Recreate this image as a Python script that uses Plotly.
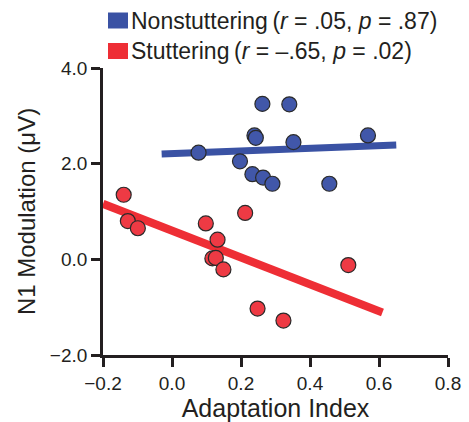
import plotly.graph_objects as go

# Adaptation index vs. N1 modulation (µV) per participant
nonstut_x = [0.077, 0.262, 0.340, 0.239, 0.243, 0.352, 0.568, 0.197, 0.233, 0.264, 0.291, 0.456]
nonstut_y = [2.23, 3.25, 3.24, 2.59, 2.54, 2.45, 2.59, 2.05, 1.78, 1.71, 1.58, 1.58]
stut_x = [-0.140, -0.128, -0.099, 0.098, 0.212, 0.132, 0.117, 0.127, 0.149, 0.248, 0.323, 0.511]
stut_y = [1.35, 0.80, 0.65, 0.75, 0.97, 0.41, 0.02, 0.03, -0.21, -1.03, -1.28, -0.12]

# Regression line end points for each group
nonstut_fit_x = [-0.03, 0.65]
nonstut_fit_y = [2.20, 2.39]
stut_fit_x = [-0.20, 0.61]
stut_fit_y = [1.16, -1.11]

group_labels = [
    "Nonstuttering\u2009(<i>r</i> = .05, <i>p</i> = .87)",
    "Stuttering\u2009(<i>r</i> = \u2013.65, <i>p</i> = .02)",
]

x_ticks = [-0.2, 0.0, 0.2, 0.4, 0.6, 0.8]
y_ticks = [-2.0, 0.0, 2.0, 4.0]

BLUE = "#3a52a4"
BLUE_PT = "#4157a9"
RED = "#ee2e35"
RED_PT = "#ee3a44"
INK = "#231f20"
FONT = "Liberation Sans, Arial, sans-serif"

W, H = 469, 422
L, R, T, B = 103, 21, 68, 67

fig = go.Figure()

fig.add_trace(go.Scatter(x=nonstut_fit_x, y=nonstut_fit_y, mode="lines",
                         line=dict(color=BLUE, width=7), showlegend=False))
fig.add_trace(go.Scatter(x=stut_fit_x, y=stut_fit_y, mode="lines",
                         line=dict(color=RED, width=8), showlegend=False))
fig.add_trace(go.Scatter(x=nonstut_x, y=nonstut_y, mode="markers",
                         marker=dict(size=15, color=BLUE_PT,
                                     line=dict(color="#2a2a2a", width=1.2)),
                         showlegend=False))
fig.add_trace(go.Scatter(x=stut_x, y=stut_y, mode="markers",
                         marker=dict(size=15, color=RED_PT,
                                     line=dict(color="#2a2a2a", width=1.2)),
                         showlegend=False))


def px_x(p):
    return (p - L) / (W - L - R)


def px_y(p):
    return (H - B - p) / (H - T - B)


# Group key: coloured squares with labels above the plot
key_colors = [BLUE, RED]
key_tops = [12.5, 43]
for label, color, top in zip(group_labels, key_colors, key_tops):
    fig.add_shape(type="rect", xref="paper", yref="paper",
                  x0=px_x(108), x1=px_x(128), y0=px_y(top + 16), y1=px_y(top),
                  fillcolor=color, line=dict(width=0))
    fig.add_annotation(xref="paper", yref="paper", x=px_x(129), y=px_y(top + 8.5),
                       xanchor="left", yanchor="middle", showarrow=False,
                       text=label, font=dict(family=FONT, size=23, color=INK))

axis_common = dict(
    showline=True, linecolor=INK, linewidth=2.8,
    ticks="outside", ticklen=9, tickwidth=2.8, tickcolor=INK,
    showgrid=False, zeroline=False, tickformat=".1f", automargin=False,
    tickfont=dict(family=FONT, size=19, color=INK),
)

fig.update_xaxes(range=[-0.2, 0.8], tickvals=x_ticks,
                 title=dict(text="Adaptation Index", standoff=7,
                            font=dict(family=FONT, size=25, color=INK)),
                 **axis_common)
fig.update_yaxes(range=[-2.0, 4.0], tickvals=y_ticks,
                 title=dict(text="N1 Modulation (\u03bcV)", standoff=8,
                            font=dict(family=FONT, size=24, color=INK)),
                 **axis_common)

fig.update_layout(
    width=W, height=H,
    margin=dict(l=L, r=R, t=T, b=B),
    plot_bgcolor="white", paper_bgcolor="white",
    showlegend=False,
)

fig.write_html("out.html")
